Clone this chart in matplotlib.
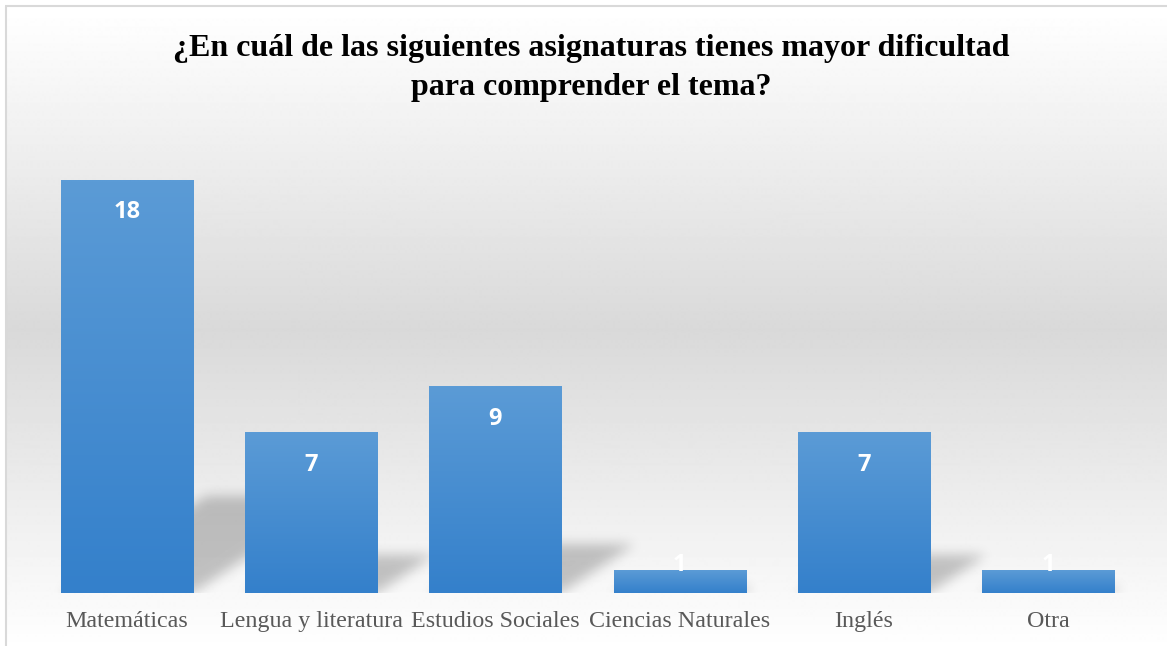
import matplotlib.pyplot as plt
import numpy as np
from matplotlib.colors import to_rgb

categories = ['Matemáticas', 'Lengua y literatura', 'Estudios Sociales',
              'Ciencias Naturales', 'Inglés', 'Otra']
values = [18, 7, 9, 1, 7, 1]
title = ('¿En cuál de las siguientes asignaturas tienes mayor dificultad\n'
         'para comprender el tema?')

W, H = 1167, 646
fig = plt.figure(figsize=(W / 100, H / 100), dpi=100)

# background: white -> light gray -> white, with a thin border top/left
bg = fig.add_axes([0, 0, 1, 1], zorder=0)
bg.set_xlim(0, W)
bg.set_ylim(H, 0)
bg.axis('off')
rows = np.arange(7, H + 1)
t = np.clip(np.abs(rows - 330) / 320.0, 0, 1)
g = (0xd9 + (0xff - 0xd9) * t) / 255.0
grad = np.repeat(g[:, None], 2, axis=1)
bg.imshow(grad, cmap='gray', vmin=0, vmax=1, extent=[6, W, H, 7],
          aspect='auto', interpolation='bilinear')
bg.plot([5.5, 5.5], [6, H], color='#d9d9d9', lw=1.5, solid_capstyle='butt')
bg.plot([5, W], [6, 6], color='#d9d9d9', lw=1.5, solid_capstyle='butt')
bg.set_xlim(0, W)
bg.set_ylim(H, 0)

# main axes
left_px, right_px, base_px = 35, 1140, 593
ymax = 20
unit_px = 22.94
ax = fig.add_axes([left_px / W, (H - base_px) / H,
                   (right_px - left_px) / W, ymax * unit_px / H], zorder=1)
ax.patch.set_alpha(0)
n = len(categories)
x = np.arange(n)
half = 0.3587
px_per_x = (right_px - left_px) / n

# blurred perspective shadows
nx, ny = int(right_px - left_px), int(ymax * unit_px)
gx = np.linspace(-0.5, n - 0.5, nx)
gy = np.linspace(0, ymax, ny)
XX, YY = np.meshgrid(gx, gy)
mask = np.zeros_like(XX)
skew = 1.5 * unit_px / px_per_x
for xi, v in zip(x, values):
    hs = 0.235 * v
    inside = (YY <= hs) & (XX >= xi - half + skew * YY) & (XX <= xi + half + skew * YY)
    mask[inside] = 1.0
sigma = 6.0
k = np.arange(-18, 19)
kern = np.exp(-0.5 * (k / sigma) ** 2)
kern /= kern.sum()
mask = np.apply_along_axis(lambda r: np.convolve(r, kern, mode='same'), 1, mask)
mask = np.apply_along_axis(lambda c: np.convolve(c, kern, mode='same'), 0, mask)
shadow = np.zeros((ny, nx, 4))
shadow[..., 3] = mask * 0.22
ax.imshow(shadow, extent=[-0.5, n - 0.5, 0, ymax], origin='lower',
          aspect='auto', zorder=1)

# gradient bars
top_c = np.array(to_rgb('#5b9bd6'))
bot_c = np.array(to_rgb('#3480cb'))
for xi, v in zip(x, values):
    s = np.linspace(0, 1, 100)[:, None]
    img = (bot_c[None, :] * (1 - s) + top_c[None, :] * s)[:, None, :]
    ax.imshow(img, extent=[xi - half, xi + half, 0, v], origin='lower',
              aspect='auto', zorder=2, interpolation='bilinear')
    ly = max(v - 1.4, 1.2)
    ax.text(xi, ly, str(v), ha='center', va='center', color='white',
            fontsize=17, fontweight='bold', family='Open Sans', zorder=3)

ax.set_xlim(-0.5, n - 0.5)
ax.set_ylim(0, ymax)
ax.set_xticks(x)
ax.set_xticklabels(categories, family='Liberation Serif', fontsize=17.3,
                   color='#595959')
ax.tick_params(axis='x', length=0, pad=13)
ax.set_yticks([])
for sp in ax.spines.values():
    sp.set_visible(False)

fig.text(591 / W, 1 - 68 / H, title, ha='center', va='center',
         family='Liberation Serif', fontweight='bold', fontsize=23,
         linespacing=1.45, color='black')

fig.savefig('out.png', dpi=100)
